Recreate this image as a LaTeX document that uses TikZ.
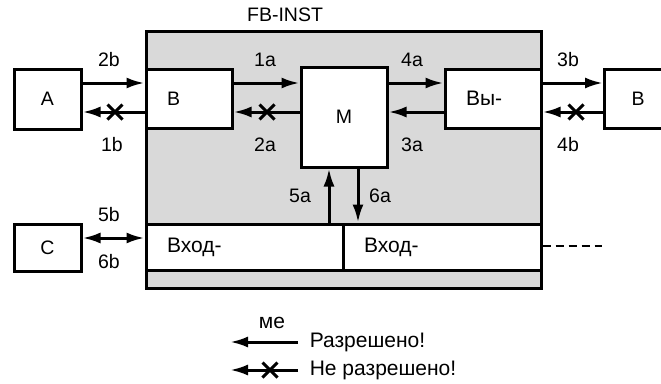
\documentclass[tikz,border=0pt]{standalone}
\usepackage{fontspec}
\setmainfont{Liberation Sans}
\usetikzlibrary{arrows.meta,shapes.misc}
\begin{document}
\begin{tikzpicture}[x=1pt,y=-1pt, line width=3pt,
 every node/.style={font=\fontsize{19.5}{22}\selectfont},
 cyr/.style={font=\fontsize{21}{24}\selectfont},
 box/.style={draw,fill=white,minimum height=#1,inner sep=0pt},
 lbox/.style={box=59pt,align=left,inner xsep=21pt},
 arr/.style={-{Latex[length=18pt,width=11pt]}},
 nogo/.style={cross out,draw,minimum size=12pt,inner sep=0pt,line width=3pt}]
 \useasboundingbox (0,0) rectangle (661,383);
 % FB-INST frame
 \node[draw,fill=black!15,minimum width=395pt,minimum height=257pt,inner sep=0pt]
  (fb) at (343.5,159.5) {};
 \node (fbname) at (285,15) {FB-INST};
 % blocks
 \node[box=60pt,minimum width=67pt] (a) at (47.5,99) {A};
 \node[lbox,text width=44pt] (b) at (189,98.5) {B};
 \node[box=100pt,minimum width=86pt] (m) at (344,117) {M};
 \node[lbox,cyr,text width=54pt] (vy) at (493,98.5) {Вы-};
 \node[lbox,inner xsep=27pt,text width=36pt,anchor=west] (b2) at (603,98.5) {B};
 \node[box=47pt,minimum width=67pt] (c) at (47.5,247.5) {C};
 \node[box=46pt,cyr,align=left,inner xsep=21pt,text width=155pt]
  (in1) at (244.5,247) {Вход-};
 \node[box=46pt,cyr,align=left,inner xsep=21pt,text width=156pt]
  (in2) at (442,247) {Вход-};
 % upper arrows
 \draw[arr] (a.east |- 0,83) -- (b.west |- 0,83);
 \draw[arr] (b.east |- 0,83) -- (m.west |- 0,83);
 \draw[arr] (m.east |- 0,83) -- (vy.west |- 0,83);
 \draw[arr] (vy.east |- 0,83) -- (b2.west |- 0,83);
 % lower arrows
 \draw[arr] (b.west |- 0,112) -- (a.east |- 0,112);
 \draw[arr] (m.west |- 0,112) -- (b.east |- 0,112);
 \draw[arr] (vy.west |- 0,112) -- (m.east |- 0,112);
 \draw[arr] (b2.west |- 0,112) -- (vy.east |- 0,112);
 \node[nogo] (x1) at (115,112) {};
 \node[nogo] (x2) at (267,112) {};
 \node[nogo] (x3) at (576,112) {};
 % vertical arrows
 \draw[arr] (in1.north -| 329,0) -- (m.south -| 329,0);
 \draw[arr] (m.south -| 358,0) -- (in2.north -| 358,0);
 % C link
 \draw[{Latex[length=18pt,width=11pt]}-{Latex[length=18pt,width=11pt]}]
  (c.east |- 0,238) -- (in1.west |- 0,238);
 \coordinate (more) at (602,246);
 \draw[dashed,dash pattern=on 8pt off 5pt,line width=2.5pt] (in2.east |- more) -- (more);
 % labels
 \node (l2b) at (109,60) {2b};
 \node (l1b) at (112,145) {1b};
 \node (l1a) at (265,60) {1a};
 \node (l2a) at (265,145) {2a};
 \node (l4a) at (412,60) {4a};
 \node (l3a) at (412,145) {3a};
 \node (l3b) at (568,60) {3b};
 \node (l4b) at (568,145) {4b};
 \node (l5a) at (300,196) {5a};
 \node (l6a) at (380,196) {6a};
 \node (l5b) at (109,215) {5b};
 \node (l6b) at (109,262) {6b};
 % legend
 \node[cyr] (me) at (272,323) {ме};
 \node[cyr,anchor=west] (ok) at (305,342) {Разрешено!};
 \node[cyr,anchor=west] (nok) at (305,370) {Не разрешено!};
 \draw[arr] ([xshift=-7pt]ok.west) -- (230,342);
 \draw[arr] ([xshift=-7pt]nok.west) -- (230,370);
 \node[nogo] (x4) at (270,370) {};
\end{tikzpicture}
\end{document}
